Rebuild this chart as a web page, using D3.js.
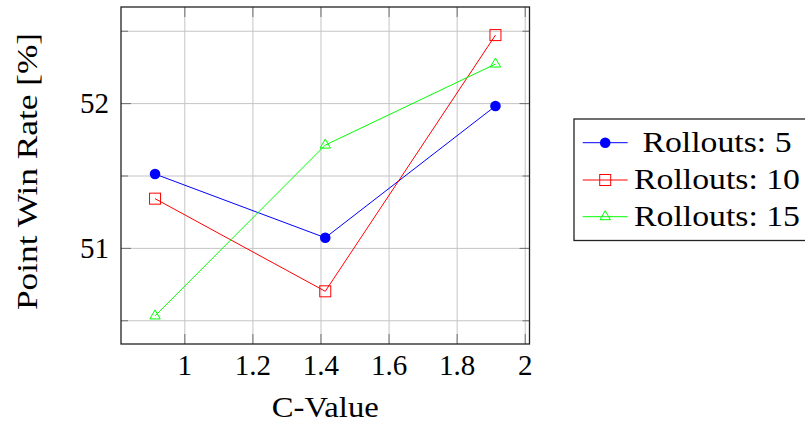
<!DOCTYPE html>
<html>
<head>
<meta charset="utf-8">
<script src="https://cdn.jsdelivr.net/npm/d3@7"></script>
<style>
  body { margin: 0; background: #fff; }
  svg { display: block; }
  text { font-family: "Liberation Serif", serif; fill: #000; }
</style>
</head>
<body>
<svg id="chart" width="805" height="421"></svg>
<script>
// values
var cValues = [0.914, 1.414, 1.914];
var rollouts5 = [51.51, 51.07, 51.98];
var rollouts10 = [51.34, 50.70, 52.47];
var rollouts15 = [50.53, 51.71, 52.27];
var seriesNames = ["Rollouts: 5", "Rollouts: 10", "Rollouts: 15"];
var xTicks = [1, 1.2, 1.4, 1.6, 1.8, 2];
var yMajorTicks = [51, 52];
var yMinorTicks = [50.5, 51.5, 52.5];

var series = [
  {name: seriesNames[0], values: rollouts5, color: "#0000ff", mark: "circle"},
  {name: seriesNames[1], values: rollouts10, color: "#ff0000", mark: "square"},
  {name: seriesNames[2], values: rollouts15, color: "#00ff00", mark: "triangle"}
];

var svg = d3.select("#chart");
var plotL = 121, plotR = 529.5, plotT = 7, plotB = 344;
var w = plotR - plotL, h = plotB - plotT;

// pgfplots style: enlarge limits by 10%
function enlarge(ext) {
  var d = (ext[1] - ext[0]) * 0.1;
  return [ext[0] - d, ext[1] + d];
}
var allY = rollouts5.concat(rollouts10, rollouts15);
var x = d3.scaleLinear().domain(enlarge(d3.extent(cValues))).range([0, w]);
var y = d3.scaleLinear().domain(enlarge(d3.extent(allY))).range([h, 0]);

var g = svg.append("g").attr("transform", "translate(" + plotL + "," + plotT + ")");

// grid
var gridColor = "#c4c4c4";
g.append("g").attr("transform", "translate(0," + h + ")")
  .call(d3.axisBottom(x).tickValues(xTicks).tickSize(-h).tickFormat(""))
  .call(function(s) { s.select(".domain").remove(); s.selectAll("line").attr("stroke", gridColor); });
g.append("g")
  .call(d3.axisLeft(y).tickValues(yMajorTicks.concat(yMinorTicks)).tickSize(-w).tickFormat(""))
  .call(function(s) { s.select(".domain").remove(); s.selectAll("line").attr("stroke", gridColor); });

// ticks on all four sides, pointing inward
var tickColor = "#707070";
function styleTicks(s) {
  s.select(".domain").remove();
  s.selectAll("line").attr("stroke", tickColor);
}
var xAxis = g.append("g").attr("transform", "translate(0," + h + ")")
  .call(d3.axisBottom(x).tickValues(xTicks).tickSize(-10).tickFormat(d3.format("")))
  .call(styleTicks);
xAxis.selectAll("text").attr("y", 31).attr("dy", 0)
  .style("font-size", "29px").style("font-family", "Liberation Serif");

g.append("g")
  .call(d3.axisTop(x).tickValues(xTicks).tickSize(-10).tickFormat(""))
  .call(styleTicks);

var yAxis = g.append("g")
  .call(d3.axisLeft(y).tickValues(yMajorTicks).tickSize(-10).tickPadding(12).tickFormat(d3.format("")))
  .call(styleTicks);
yAxis.selectAll("text").attr("dy", "0.34em")
  .style("font-size", "29px").style("font-family", "Liberation Serif");

g.append("g").attr("transform", "translate(" + w + ",0)")
  .call(d3.axisRight(y).tickValues(yMajorTicks).tickSize(-10).tickFormat(""))
  .call(styleTicks);
g.append("g")
  .call(d3.axisLeft(y).tickValues(yMinorTicks).tickSize(-7).tickFormat(""))
  .call(styleTicks);
g.append("g").attr("transform", "translate(" + w + ",0)")
  .call(d3.axisRight(y).tickValues(yMinorTicks).tickSize(-7).tickFormat(""))
  .call(styleTicks);

// markers
function drawMark(sel, mark, color) {
  if (mark === "circle") {
    sel.append("circle").attr("r", 5.3).attr("fill", color);
  } else if (mark === "square") {
    sel.append("rect").attr("x", -5.5).attr("y", -5.5).attr("width", 11).attr("height", 11)
      .attr("fill", "none").attr("stroke", color).attr("stroke-width", 1);
  } else {
    var r = 6;
    sel.append("path")
      .attr("d", "M0," + (-r) + "L" + (r * 0.866) + "," + (r * 0.5) + "L" + (-r * 0.866) + "," + (r * 0.5) + "Z")
      .attr("fill", "none").attr("stroke", color).attr("stroke-width", 1);
  }
}

var line = d3.line().x(function(d, i) { return x(cValues[i]); }).y(function(d) { return y(d); });

series.forEach(function(s) {
  g.append("path").datum(s.values)
    .attr("d", line).attr("fill", "none").attr("stroke", s.color).attr("stroke-width", 1);
  s.values.forEach(function(v, i) {
    var m = g.append("g").attr("transform", "translate(" + x(cValues[i]) + "," + y(v) + ")");
    drawMark(m, s.mark, s.color);
  });
});

// frame
g.append("rect").attr("width", w).attr("height", h)
  .attr("fill", "none").attr("stroke", "#222").attr("stroke-width", 1.3);

// axis labels
svg.append("text")
  .attr("x", plotL + w / 2).attr("y", 416.5)
  .attr("text-anchor", "middle")
  .attr("textLength", 107).attr("lengthAdjust", "spacingAndGlyphs")
  .style("font-size", "29px")
  .text("C-Value");

svg.append("text")
  .attr("transform", "translate(36.5,171.5) rotate(-90)")
  .attr("text-anchor", "middle")
  .attr("textLength", 277).attr("lengthAdjust", "spacingAndGlyphs")
  .style("font-size", "29px")
  .text("Point Win Rate [%]");

// legend
var lg = svg.append("g");
lg.append("rect").attr("x", 574).attr("y", 119).attr("width", 240).attr("height", 121.5)
  .attr("fill", "#fff").attr("stroke", "#222").attr("stroke-width", 1.3);
var rowY = [142.7, 180, 216.7];
var textW = [149, 166, 166];
series.forEach(function(s, i) {
  var row = lg.append("g").attr("transform", "translate(0," + rowY[i] + ")");
  row.append("line").attr("x1", 582.7).attr("x2", 627.7)
    .attr("stroke", s.color).attr("stroke-width", 1);
  var m = row.append("g").attr("transform", "translate(605.2,0)");
  drawMark(m, s.mark, s.color);
  row.append("text").attr("x", 717).attr("y", 9.3)
    .attr("text-anchor", "middle")
    .attr("textLength", textW[i]).attr("lengthAdjust", "spacingAndGlyphs")
    .style("font-size", "29px")
    .text(s.name);
});
</script>
</body>
</html>
